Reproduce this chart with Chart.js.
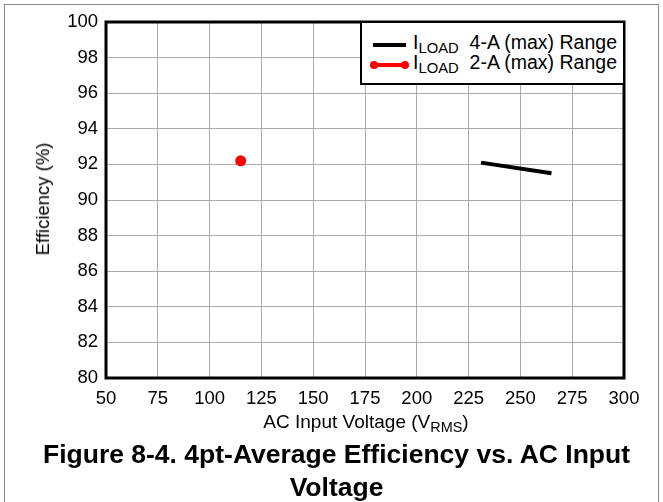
<!DOCTYPE html>
<html>
<head>
<meta charset="utf-8">
<script src="https://cdn.jsdelivr.net/npm/chart.js@4"></script>
<style>
  body { margin: 0; background: #fff; font-family: "Liberation Sans", Arial, sans-serif; }
  #wrap { position: relative; width: 663px; height: 502px; overflow: hidden; }
  #frame { position: absolute; left: 4px; top: 4px; width: 653px; height: 520px; border: 1px solid #888; }
  canvas { position: absolute; left: 0; top: 0; }
  .txt { position: absolute; color: #000; white-space: nowrap; }
  sub { font-size: 0.76em; vertical-align: -0.3em; line-height: 0; }
  #ytitle { left: 43px; top: 199px; font-size: 18.5px; transform: translate(-50%, -50%) rotate(-90deg); }
  #xtitle { left: 366px; top: 422px; font-size: 19px; transform: translate(-50%, -50%); }
  #legend { position: absolute; left: 360px; top: 21px; width: 261px; height: 60px; border: 2px solid #000; background: #fff; font-size: 19.5px; }
  .row { position: absolute; left: 0; width: 261px; height: 20px; }
  .sw { position: absolute; left: 11px; width: 33px; height: 4px; }
  .lab { position: absolute; left: 51px; top: -12px; white-space: nowrap; }
  #caption { left: 5px; width: 663px; top: 438px; text-align: center; font-size: 26.5px; font-weight: bold; line-height: 33px; white-space: normal; }
</style>
</head>
<body>
<div id="wrap">
  <div id="frame"></div>
  <canvas id="effChart" width="663" height="502"></canvas>
  <div class="txt" id="ytitle">Efficiency (%)</div>
  <div class="txt" id="xtitle">AC Input Voltage (V<sub>RMS</sub>)</div>
  <div id="legend">
    <div class="row" style="top:20px">
      <div class="sw" style="background:#000"></div>
      <div class="lab">I<sub>LOAD</sub>&nbsp; 4-A (max) Range</div>
    </div>
    <div class="row" style="top:40px">
      <div class="sw" style="background:#f00"></div>
      <div style="position:absolute;left:8px;top:-2px;width:8px;height:8px;border-radius:4px;background:#f00"></div>
      <div style="position:absolute;left:39px;top:-2px;width:8px;height:8px;border-radius:4px;background:#f00"></div>
      <div class="lab">I<sub>LOAD</sub>&nbsp; 2-A (max) Range</div>
    </div>
  </div>
  <div class="txt" id="caption">Figure 8-4. 4pt-Average Efficiency vs. AC Input<br>Voltage</div>
</div>
<script>
// 4-A (max) range curve
const vin4A = [231, 265];
const eff4A = [92.1, 91.5];
// 2-A (max) range point
const vin2A = [115];
const eff2A = [92.2];

const xTicks = [50, 75, 100, 125, 150, 175, 200, 225, 250, 275, 300];
const yTicks = [80, 82, 84, 86, 88, 90, 92, 94, 96, 98, 100];

function toPoints(xs, ys) {
  return xs.map((x, i) => ({ x: x, y: ys[i] }));
}

// heavy frame round the plot area
const frameBox = {
  id: 'frameBox',
  afterDraw(chart) {
    const a = chart.chartArea;
    const c = chart.ctx;
    c.save();
    c.strokeStyle = '#000';
    c.lineWidth = 3;
    c.strokeRect(a.left, a.top, a.right - a.left, a.bottom - a.top);
    c.restore();
  }
};

const ctx = document.getElementById('effChart').getContext('2d');
new Chart(ctx, {
  type: 'line',
  data: {
    datasets: [
      {
        label: '4-A (max) Range',
        data: toPoints(vin4A, eff4A),
        borderColor: '#000',
        borderWidth: 4,
        pointRadius: 0,
        fill: false
      },
      {
        label: '2-A (max) Range',
        data: toPoints(vin2A, eff2A),
        borderColor: '#f00',
        backgroundColor: '#f00',
        borderWidth: 3,
        pointRadius: 4,
        fill: false
      }
    ]
  },
  options: {
    responsive: false,
    animation: false,
    layout: { padding: { top: 22, right: 39, left: 0, bottom: 0 } },
    plugins: { legend: { display: false }, tooltip: { enabled: false } },
    scales: {
      x: {
        type: 'linear',
        min: 50,
        max: 300,
        afterBuildTicks: s => { s.ticks = xTicks.map(v => ({ value: v })); },
        afterFit: s => { s.height = 124; },
        ticks: { color: '#000', font: { family: 'Liberation Sans', size: 18.5 }, padding: 10, maxRotation: 0 },
        grid: { color: '#aaa', lineWidth: 1, drawTicks: false },
        border: { display: false }
      },
      y: {
        type: 'linear',
        min: 80,
        max: 100,
        afterBuildTicks: s => { s.ticks = yTicks.map(v => ({ value: v })); },
        afterFit: s => { s.width = 106; },
        ticks: { color: '#000', font: { family: 'Liberation Sans', size: 18.5 }, padding: 8 },
        grid: { color: '#aaa', lineWidth: 1, drawTicks: false },
        border: { display: false }
      }
    }
  },
  plugins: [frameBox]
});
</script>
</body>
</html>
